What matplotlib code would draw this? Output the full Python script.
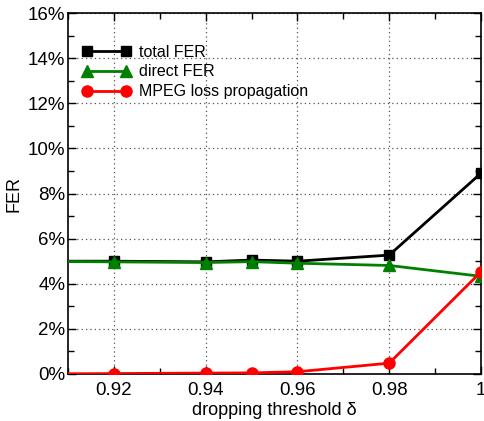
import numpy as np
import matplotlib
matplotlib.use('Agg')
import matplotlib.pyplot as plt
from matplotlib.ticker import FixedLocator, MultipleLocator

plt.rcParams['font.family'] = ['Liberation Sans', 'DejaVu Sans']

# data
delta = [0.90, 0.92, 0.94, 0.95, 0.96, 0.98, 1.00]
total_fer = [5.0, 5.0, 4.97, 5.05, 5.0, 5.27, 8.9]
direct_fer = [5.0, 4.97, 4.94, 4.98, 4.91, 4.81, 4.33]
mpeg_loss = [0.0, 0.02, 0.04, 0.05, 0.1, 0.48, 4.53]

xticks = [0.92, 0.94, 0.96, 0.98, 1.0]
xticklabels = ['0.92', '0.94', '0.96', '0.98', '1']
yticks = [0, 2, 4, 6, 8, 10, 12, 14, 16]

fig = plt.figure(figsize=(4.84, 4.21), dpi=100)
ax = fig.add_axes([68/484, 47/421, (481-68)/484, (374-13)/421])

ax.plot(delta, total_fer, color='black', lw=2, marker='s', ms=7, label='total FER', zorder=3)
ax.plot(delta, direct_fer, color='#008000', lw=2, marker='^', ms=8, label='direct FER', zorder=4)
ax.plot(delta, mpeg_loss, color='red', lw=2, marker='o', ms=8, label='MPEG loss propagation', zorder=5)

ax.set_xlim(0.91, 1.0)
ax.set_ylim(0, 16)
ax.xaxis.set_major_locator(FixedLocator(xticks))
ax.set_xticklabels(xticklabels)
ax.xaxis.set_minor_locator(MultipleLocator(0.01))
ax.set_yticks(yticks)
ax.set_yticklabels([f'{v}%' for v in yticks])
ax.yaxis.set_minor_locator(MultipleLocator(1))

ax.tick_params(which='both', direction='in', top=True, right=True, labelsize=13.5, width=1)
ax.tick_params(which='major', length=6)
ax.tick_params(axis='x', which='major', pad=6)
ax.tick_params(axis='y', which='major', pad=2)
ax.tick_params(which='minor', length=4)
ax.grid(True, which='major', linestyle=(0, (1, 2.5)), color='#555555', lw=0.9)
for s in ax.spines.values():
    s.set_linewidth(1.2)

ax.set_xlabel('dropping threshold δ', fontsize=13, labelpad=2)
ax.set_ylabel('FER', fontsize=13, labelpad=4)

leg = ax.legend(loc='upper left', bbox_to_anchor=(0.02, 0.93), frameon=False, fontsize=11.5,
                handlelength=3.0, handletextpad=0.5, labelspacing=0.3, borderaxespad=0,
                numpoints=2)
for h in leg.get_lines():
    h.set_markevery([0, 1])

fig.savefig('out.png', dpi=100)
